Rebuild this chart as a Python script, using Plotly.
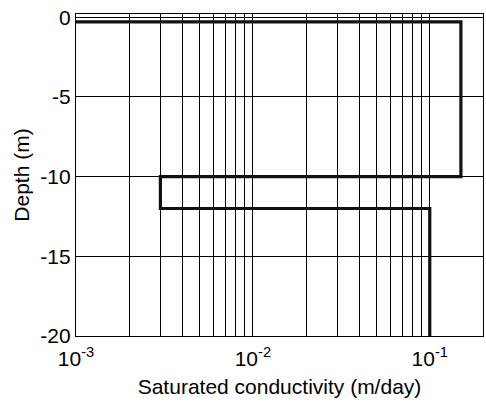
import plotly.graph_objects as go

# Profile of saturated conductivity vs depth
conductivity = [0.001, 0.15, 0.15, 0.003, 0.003, 0.1, 0.1]
depth = [-0.3, -0.3, -10, -10, -12, -12, -20]

x_major = [0.001, 0.01, 0.1]
x_major_text = ["10<sup>-3</sup>", "10<sup>-2</sup>", "10<sup>-1</sup>"]
x_minor = [m * d for d in (0.001, 0.01, 0.1) for m in range(2, 10)]
y_ticks = [0, -5, -10, -15, -20]
y_tick_text = ["0", "-5", "-10", "-15", "-20"]

font = "Liberation Sans, Arial, sans-serif"

fig = go.Figure()
fig.add_trace(go.Scatter(
    x=conductivity, y=depth, mode="lines",
    line=dict(color="#111111", width=3.2),
    showlegend=False, hoverinfo="skip",
))

fig.update_layout(
    width=486, height=411,
    margin=dict(l=76, r=3, t=14, b=75),
    paper_bgcolor="white", plot_bgcolor="white",
    font=dict(family=font, size=21, color="black"),
)
fig.update_xaxes(
    type="log", range=[-3, -0.699],
    tickvals=x_major, ticktext=x_major_text,
    tickfont=dict(size=21), ticklabelstandoff=4,
    showgrid=True, gridcolor="black", gridwidth=1,
    minor=dict(tickvals=x_minor, showgrid=True, gridcolor="black", gridwidth=1, ticks=""),
    showline=True, linecolor="black", linewidth=1.2, mirror=True,
    ticks="", zeroline=False,
    title=dict(text="Saturated conductivity (m/day)", font=dict(size=21), standoff=10),
)
fig.update_yaxes(
    range=[-20, 0.2],
    tickvals=y_ticks, ticktext=y_tick_text,
    tickfont=dict(size=21),
    showgrid=True, gridcolor="black", gridwidth=1,
    showline=True, linecolor="black", linewidth=1.2, mirror=True,
    ticks="", zeroline=False,
    title=dict(text="Depth (m)", font=dict(size=21), standoff=4),
)

fig.write_html("out.html")
